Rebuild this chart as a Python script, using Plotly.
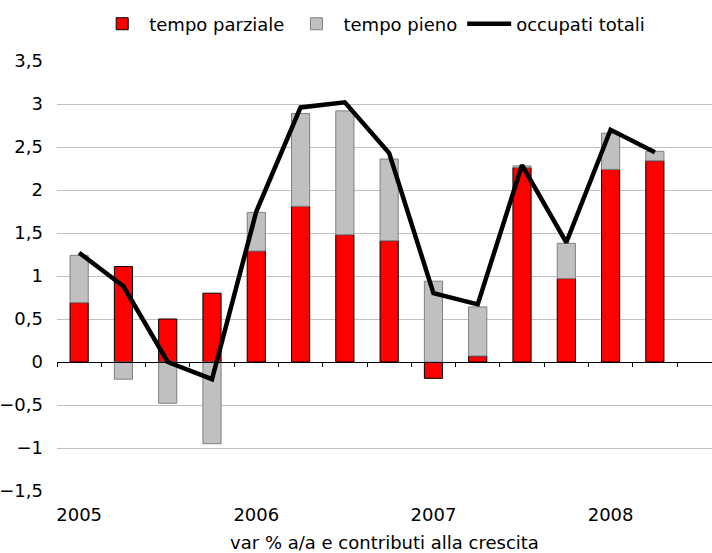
import plotly.graph_objects as go

quarters = ["2005 T1", "2005 T2", "2005 T3", "2005 T4",
            "2006 T1", "2006 T2", "2006 T3", "2006 T4",
            "2007 T1", "2007 T2", "2007 T3", "2007 T4",
            "2008 T1", "2008 T2"]
tempo_parziale = [0.69, 1.11, 0.50, 0.80, 1.29, 1.81, 1.48, 1.41, -0.19, 0.07, 2.26, 0.97, 2.24, 2.34]
tempo_pieno = [0.55, -0.20, -0.48, -0.95, 0.45, 1.08, 1.44, 0.95, 0.94, 0.57, 0.02, 0.41, 0.42, 0.11]
occupati_totali = [1.27, 0.88, 0.00, -0.20, 1.75, 2.96, 3.02, 2.43, 0.80, 0.67, 2.29, 1.39, 2.70, 2.44]
year_labels = ["2005", "2006", "2007", "2008"]
year_positions = [0, 4, 8, 12]

FONT = "DejaVu Sans, Verdana, sans-serif"

x = list(range(len(quarters)))

fig = go.Figure()
fig.add_trace(go.Bar(x=x, y=tempo_parziale, name="tempo parziale", width=0.41,
                     marker=dict(color="#ff0000", line=dict(color="#000000", width=1))))
fig.add_trace(go.Bar(x=x, y=tempo_pieno, name="tempo pieno", width=0.41,
                     marker=dict(color="#c0c0c0", line=dict(color="#808080", width=1))))
fig.add_trace(go.Scatter(x=x, y=occupati_totali, name="occupati totali", mode="lines",
                         xaxis="x2", line=dict(color="#000000", width=4.5)))

xr = [-0.5, 14.29]
fig.update_layout(
    width=712, height=553,
    barmode="relative",
    separators=",.",
    plot_bgcolor="white", paper_bgcolor="white",
    font=dict(family=FONT, size=18, color="#000000"),
    margin=dict(l=57, r=0, t=61, b=62, autoexpand=False),
    showlegend=True,
    legend=dict(orientation="h", x=0.482, xanchor="center", y=1.086, yanchor="middle",
                font=dict(size=18), itemwidth=44, tracegroupgap=0,
                bgcolor="rgba(0,0,0,0)"),
    xaxis=dict(range=xr, tickvals=year_positions, ticktext=year_labels,
               showgrid=False, zeroline=False, showline=False, ticks="",
               ticklabelstandoff=11, automargin=False,
               title=dict(text="var % a/a e contributi alla crescita", standoff=17,
                          font=dict(size=18))),
    xaxis2=dict(range=xr, overlaying="x", anchor="free", position=0.3,
                side="bottom", showline=True, linecolor="#000000", linewidth=1,
                ticks="outside", ticklen=4, tickcolor="#000000", tickwidth=1,
                tickvals=[i - 0.5 for i in range(len(quarters) + 1)],
                showticklabels=False, showgrid=False, zeroline=False, automargin=False),
    yaxis=dict(range=[-1.5, 3.5], dtick=0.5, tick0=0, showgrid=True, gridcolor="#c0c0c0",
               gridwidth=1, zeroline=False, showline=False, ticks="",
               ticklabelstandoff=13, automargin=False),
)
fig.write_html("out.html", config={"displayModeBar": False},
               post_script="document.body.style.margin='0';")
